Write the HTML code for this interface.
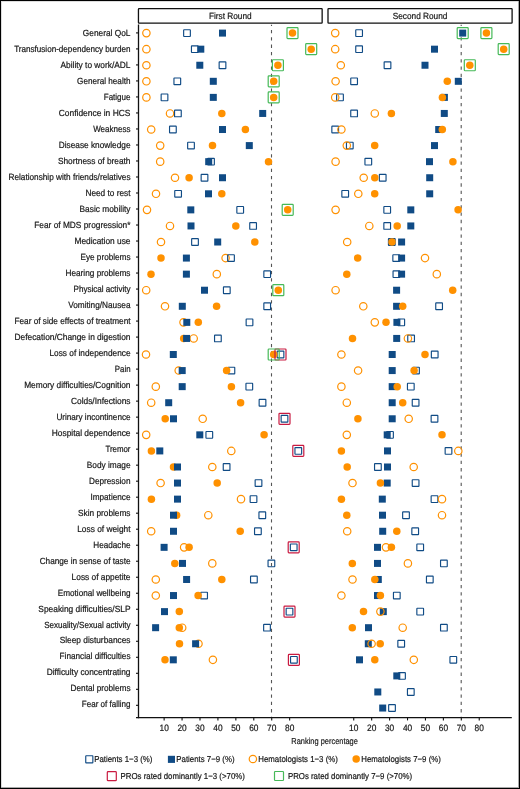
<!DOCTYPE html>
<html><head><meta charset="utf-8"><style>
html,body{margin:0;padding:0;background:#fff;}
body{width:520px;height:789px;overflow:hidden;position:relative;}
svg{position:absolute;left:0;top:0;}
text{font-family:"Liberation Sans",sans-serif;fill:#161616;stroke:#161616;stroke-width:0.18px;text-rendering:geometricPrecision;}
svg{will-change:transform;}
</style></head><body>
<svg width="520" height="789" viewBox="0 0 520 789">
<rect x="0" y="0" width="520" height="789" fill="#fff"/>
<rect x="138.45" y="8.6" width="183.70" height="14.45" rx="0.6" fill="#fff" stroke="#111" stroke-width="1.3"/>
<text transform="translate(230.30 18.50) scale(1.017 1.1)" font-size="8.15" text-anchor="middle">First Round</text>
<rect x="328.0" y="8.6" width="184.10" height="14.45" rx="0.6" fill="#fff" stroke="#111" stroke-width="1.3"/>
<text transform="translate(420.05 18.50) scale(1.017 1.1)" font-size="8.15" text-anchor="middle">Second Round</text>
<line x1="271.5" y1="24.7" x2="271.5" y2="716.8" stroke="#555" stroke-width="1.1" stroke-dasharray="3.3 4.002" stroke-dashoffset="2.002"/>
<line x1="461.2" y1="24.7" x2="461.2" y2="716.8" stroke="#555" stroke-width="1.1" stroke-dasharray="3.3 4.002" stroke-dashoffset="2.002"/>
<line x1="138.5" y1="24.6" x2="138.5" y2="718.3" stroke="#111" stroke-width="1.3"/>
<line x1="136.0" y1="717.7" x2="511.8" y2="717.7" stroke="#111" stroke-width="1.3"/>
<line x1="136.0" y1="32.90" x2="138.5" y2="32.90" stroke="#111" stroke-width="1.1"/>
<line x1="136.0" y1="48.91" x2="138.5" y2="48.91" stroke="#111" stroke-width="1.1"/>
<line x1="136.0" y1="64.92" x2="138.5" y2="64.92" stroke="#111" stroke-width="1.1"/>
<line x1="136.0" y1="80.93" x2="138.5" y2="80.93" stroke="#111" stroke-width="1.1"/>
<line x1="136.0" y1="96.94" x2="138.5" y2="96.94" stroke="#111" stroke-width="1.1"/>
<line x1="136.0" y1="112.95" x2="138.5" y2="112.95" stroke="#111" stroke-width="1.1"/>
<line x1="136.0" y1="128.96" x2="138.5" y2="128.96" stroke="#111" stroke-width="1.1"/>
<line x1="136.0" y1="144.97" x2="138.5" y2="144.97" stroke="#111" stroke-width="1.1"/>
<line x1="136.0" y1="160.98" x2="138.5" y2="160.98" stroke="#111" stroke-width="1.1"/>
<line x1="136.0" y1="176.99" x2="138.5" y2="176.99" stroke="#111" stroke-width="1.1"/>
<line x1="136.0" y1="193.00" x2="138.5" y2="193.00" stroke="#111" stroke-width="1.1"/>
<line x1="136.0" y1="209.01" x2="138.5" y2="209.01" stroke="#111" stroke-width="1.1"/>
<line x1="136.0" y1="225.02" x2="138.5" y2="225.02" stroke="#111" stroke-width="1.1"/>
<line x1="136.0" y1="241.03" x2="138.5" y2="241.03" stroke="#111" stroke-width="1.1"/>
<line x1="136.0" y1="257.04" x2="138.5" y2="257.04" stroke="#111" stroke-width="1.1"/>
<line x1="136.0" y1="273.05" x2="138.5" y2="273.05" stroke="#111" stroke-width="1.1"/>
<line x1="136.0" y1="289.06" x2="138.5" y2="289.06" stroke="#111" stroke-width="1.1"/>
<line x1="136.0" y1="305.07" x2="138.5" y2="305.07" stroke="#111" stroke-width="1.1"/>
<line x1="136.0" y1="321.08" x2="138.5" y2="321.08" stroke="#111" stroke-width="1.1"/>
<line x1="136.0" y1="337.09" x2="138.5" y2="337.09" stroke="#111" stroke-width="1.1"/>
<line x1="136.0" y1="353.10" x2="138.5" y2="353.10" stroke="#111" stroke-width="1.1"/>
<line x1="136.0" y1="369.11" x2="138.5" y2="369.11" stroke="#111" stroke-width="1.1"/>
<line x1="136.0" y1="385.12" x2="138.5" y2="385.12" stroke="#111" stroke-width="1.1"/>
<line x1="136.0" y1="401.13" x2="138.5" y2="401.13" stroke="#111" stroke-width="1.1"/>
<line x1="136.0" y1="417.14" x2="138.5" y2="417.14" stroke="#111" stroke-width="1.1"/>
<line x1="136.0" y1="433.15" x2="138.5" y2="433.15" stroke="#111" stroke-width="1.1"/>
<line x1="136.0" y1="449.16" x2="138.5" y2="449.16" stroke="#111" stroke-width="1.1"/>
<line x1="136.0" y1="465.17" x2="138.5" y2="465.17" stroke="#111" stroke-width="1.1"/>
<line x1="136.0" y1="481.18" x2="138.5" y2="481.18" stroke="#111" stroke-width="1.1"/>
<line x1="136.0" y1="497.19" x2="138.5" y2="497.19" stroke="#111" stroke-width="1.1"/>
<line x1="136.0" y1="513.20" x2="138.5" y2="513.20" stroke="#111" stroke-width="1.1"/>
<line x1="136.0" y1="529.21" x2="138.5" y2="529.21" stroke="#111" stroke-width="1.1"/>
<line x1="136.0" y1="545.22" x2="138.5" y2="545.22" stroke="#111" stroke-width="1.1"/>
<line x1="136.0" y1="561.23" x2="138.5" y2="561.23" stroke="#111" stroke-width="1.1"/>
<line x1="136.0" y1="577.24" x2="138.5" y2="577.24" stroke="#111" stroke-width="1.1"/>
<line x1="136.0" y1="593.25" x2="138.5" y2="593.25" stroke="#111" stroke-width="1.1"/>
<line x1="136.0" y1="609.26" x2="138.5" y2="609.26" stroke="#111" stroke-width="1.1"/>
<line x1="136.0" y1="625.27" x2="138.5" y2="625.27" stroke="#111" stroke-width="1.1"/>
<line x1="136.0" y1="641.28" x2="138.5" y2="641.28" stroke="#111" stroke-width="1.1"/>
<line x1="136.0" y1="657.29" x2="138.5" y2="657.29" stroke="#111" stroke-width="1.1"/>
<line x1="136.0" y1="673.30" x2="138.5" y2="673.30" stroke="#111" stroke-width="1.1"/>
<line x1="136.0" y1="689.31" x2="138.5" y2="689.31" stroke="#111" stroke-width="1.1"/>
<line x1="136.0" y1="705.32" x2="138.5" y2="705.32" stroke="#111" stroke-width="1.1"/>
<line x1="164.13" y1="717.7" x2="164.13" y2="720.4" stroke="#111" stroke-width="1.1"/>
<text transform="translate(164.13 731.00) scale(1 1.1)" font-size="8.35" text-anchor="middle">10</text>
<line x1="182.06" y1="717.7" x2="182.06" y2="720.4" stroke="#111" stroke-width="1.1"/>
<text transform="translate(182.06 731.00) scale(1 1.1)" font-size="8.35" text-anchor="middle">20</text>
<line x1="199.99" y1="717.7" x2="199.99" y2="720.4" stroke="#111" stroke-width="1.1"/>
<text transform="translate(199.99 731.00) scale(1 1.1)" font-size="8.35" text-anchor="middle">30</text>
<line x1="217.92" y1="717.7" x2="217.92" y2="720.4" stroke="#111" stroke-width="1.1"/>
<text transform="translate(217.92 731.00) scale(1 1.1)" font-size="8.35" text-anchor="middle">40</text>
<line x1="235.85" y1="717.7" x2="235.85" y2="720.4" stroke="#111" stroke-width="1.1"/>
<text transform="translate(235.85 731.00) scale(1 1.1)" font-size="8.35" text-anchor="middle">50</text>
<line x1="253.78" y1="717.7" x2="253.78" y2="720.4" stroke="#111" stroke-width="1.1"/>
<text transform="translate(253.78 731.00) scale(1 1.1)" font-size="8.35" text-anchor="middle">60</text>
<line x1="271.71" y1="717.7" x2="271.71" y2="720.4" stroke="#111" stroke-width="1.1"/>
<text transform="translate(271.71 731.00) scale(1 1.1)" font-size="8.35" text-anchor="middle">70</text>
<line x1="289.64" y1="717.7" x2="289.64" y2="720.4" stroke="#111" stroke-width="1.1"/>
<text transform="translate(289.64 731.00) scale(1 1.1)" font-size="8.35" text-anchor="middle">80</text>
<line x1="353.73" y1="717.7" x2="353.73" y2="720.4" stroke="#111" stroke-width="1.1"/>
<text transform="translate(353.73 731.00) scale(1 1.1)" font-size="8.35" text-anchor="middle">10</text>
<line x1="371.66" y1="717.7" x2="371.66" y2="720.4" stroke="#111" stroke-width="1.1"/>
<text transform="translate(371.66 731.00) scale(1 1.1)" font-size="8.35" text-anchor="middle">20</text>
<line x1="389.59" y1="717.7" x2="389.59" y2="720.4" stroke="#111" stroke-width="1.1"/>
<text transform="translate(389.59 731.00) scale(1 1.1)" font-size="8.35" text-anchor="middle">30</text>
<line x1="407.52" y1="717.7" x2="407.52" y2="720.4" stroke="#111" stroke-width="1.1"/>
<text transform="translate(407.52 731.00) scale(1 1.1)" font-size="8.35" text-anchor="middle">40</text>
<line x1="425.45" y1="717.7" x2="425.45" y2="720.4" stroke="#111" stroke-width="1.1"/>
<text transform="translate(425.45 731.00) scale(1 1.1)" font-size="8.35" text-anchor="middle">50</text>
<line x1="443.38" y1="717.7" x2="443.38" y2="720.4" stroke="#111" stroke-width="1.1"/>
<text transform="translate(443.38 731.00) scale(1 1.1)" font-size="8.35" text-anchor="middle">60</text>
<line x1="461.31" y1="717.7" x2="461.31" y2="720.4" stroke="#111" stroke-width="1.1"/>
<text transform="translate(461.31 731.00) scale(1 1.1)" font-size="8.35" text-anchor="middle">70</text>
<line x1="479.24" y1="717.7" x2="479.24" y2="720.4" stroke="#111" stroke-width="1.1"/>
<text transform="translate(479.24 731.00) scale(1 1.1)" font-size="8.35" text-anchor="middle">80</text>
<text transform="translate(130.5 36.40) scale(1.0237 1.1)" font-size="8.15" text-anchor="end">General QoL</text>
<text transform="translate(130.5 52.38) scale(0.9973 1.1)" font-size="8.15" text-anchor="end">Transfusion-dependency burden</text>
<text transform="translate(130.5 68.35) scale(1.0264 1.1)" font-size="8.15" text-anchor="end">Ability to work/ADL</text>
<text transform="translate(130.5 84.33) scale(1.0021 1.1)" font-size="8.15" text-anchor="end">General health</text>
<text transform="translate(130.5 100.30) scale(0.9863 1.1)" font-size="8.15" text-anchor="end">Fatigue</text>
<text transform="translate(130.5 116.28) scale(1.0394 1.1)" font-size="8.15" text-anchor="end">Confidence in HCS</text>
<text transform="translate(130.5 132.26) scale(0.9874 1.1)" font-size="8.15" text-anchor="end">Weakness</text>
<text transform="translate(130.5 148.23) scale(1.0173 1.1)" font-size="8.15" text-anchor="end">Disease knowledge</text>
<text transform="translate(130.5 164.21) scale(1.0231 1.1)" font-size="8.15" text-anchor="end">Shortness of breath</text>
<text transform="translate(130.5 180.18) scale(1.0116 1.1)" font-size="8.15" text-anchor="end">Relationship with friends/relatives</text>
<text transform="translate(130.5 196.16) scale(1.0181 1.1)" font-size="8.15" text-anchor="end">Need to rest</text>
<text transform="translate(130.5 212.14) scale(1.0262 1.1)" font-size="8.15" text-anchor="end">Basic mobility</text>
<text transform="translate(130.5 228.11) scale(1.0249 1.1)" font-size="8.15" text-anchor="end">Fear of MDS progression*</text>
<text transform="translate(130.5 244.09) scale(1.0255 1.1)" font-size="8.15" text-anchor="end">Medication use</text>
<text transform="translate(130.5 260.06) scale(1.0059 1.1)" font-size="8.15" text-anchor="end">Eye problems</text>
<text transform="translate(130.5 276.04) scale(1.013 1.1)" font-size="8.15" text-anchor="end">Hearing problems</text>
<text transform="translate(130.5 292.02) scale(0.9932 1.1)" font-size="8.15" text-anchor="end">Physical activity</text>
<text transform="translate(130.5 307.99) scale(1.015 1.1)" font-size="8.15" text-anchor="end">Vomiting/Nausea</text>
<text transform="translate(130.5 323.97) scale(1.013 1.1)" font-size="8.15" text-anchor="end">Fear of side effects of treatment</text>
<text transform="translate(130.5 339.94) scale(1.0269 1.1)" font-size="8.15" text-anchor="end">Defecation/Change in digestion</text>
<text transform="translate(130.5 355.92) scale(1.0188 1.1)" font-size="8.15" text-anchor="end">Loss of independence</text>
<text transform="translate(130.5 371.90) scale(0.9633 1.1)" font-size="8.15" text-anchor="end">Pain</text>
<text transform="translate(130.5 387.87) scale(1.0254 1.1)" font-size="8.15" text-anchor="end">Memory difficulties/Cognition</text>
<text transform="translate(130.5 403.85) scale(1.0302 1.1)" font-size="8.15" text-anchor="end">Colds/Infections</text>
<text transform="translate(130.5 419.82) scale(1.0 1.1)" font-size="8.15" text-anchor="end">Urinary incontinence</text>
<text transform="translate(130.5 435.80) scale(1.0318 1.1)" font-size="8.15" text-anchor="end">Hospital dependence</text>
<text transform="translate(130.5 451.78) scale(0.9696 1.1)" font-size="8.15" text-anchor="end">Tremor</text>
<text transform="translate(130.5 467.75) scale(1.0195 1.1)" font-size="8.15" text-anchor="end">Body image</text>
<text transform="translate(130.5 483.73) scale(1.0105 1.1)" font-size="8.15" text-anchor="end">Depression</text>
<text transform="translate(130.5 499.70) scale(1.0091 1.1)" font-size="8.15" text-anchor="end">Impatience</text>
<text transform="translate(130.5 515.68) scale(1.0198 1.1)" font-size="8.15" text-anchor="end">Skin problems</text>
<text transform="translate(130.5 531.66) scale(1.0257 1.1)" font-size="8.15" text-anchor="end">Loss of weight</text>
<text transform="translate(130.5 547.63) scale(1.0035 1.1)" font-size="8.15" text-anchor="end">Headache</text>
<text transform="translate(130.5 563.61) scale(1.0106 1.1)" font-size="8.15" text-anchor="end">Change in sense of taste</text>
<text transform="translate(130.5 579.58) scale(1.0264 1.1)" font-size="8.15" text-anchor="end">Loss of appetite</text>
<text transform="translate(130.5 595.56) scale(1.0071 1.1)" font-size="8.15" text-anchor="end">Emotional wellbeing</text>
<text transform="translate(130.5 611.54) scale(1.0327 1.1)" font-size="8.15" text-anchor="end">Speaking difficulties/SLP</text>
<text transform="translate(130.5 627.51) scale(0.99 1.1)" font-size="8.15" text-anchor="end">Sexuality/Sexual activity</text>
<text transform="translate(130.5 643.49) scale(1.0251 1.1)" font-size="8.15" text-anchor="end">Sleep disturbances</text>
<text transform="translate(130.5 659.46) scale(1.0087 1.1)" font-size="8.15" text-anchor="end">Financial difficulties</text>
<text transform="translate(130.5 675.44) scale(1.027 1.1)" font-size="8.15" text-anchor="end">Difficulty concentrating</text>
<text transform="translate(130.5 691.42) scale(1.0124 1.1)" font-size="8.15" text-anchor="end">Dental problems</text>
<text transform="translate(130.5 707.39) scale(0.9884 1.1)" font-size="8.15" text-anchor="end">Fear of falling</text>
<circle cx="146.40" cy="33.10" r="3.7" fill="none" stroke="#ff9100" stroke-width="1.2"/>
<rect x="183.65" y="29.75" width="6.7" height="6.7" fill="none" stroke="#104b85" stroke-width="1.15" rx="0.4"/>
<circle cx="292.50" cy="33.10" r="3.75" fill="#ff9100"/>
<rect x="219.00" y="29.60" width="7.0" height="7.0" fill="#104b85"/>
<circle cx="146.40" cy="49.17" r="3.7" fill="none" stroke="#ff9100" stroke-width="1.2"/>
<rect x="191.45" y="45.82" width="6.7" height="6.7" fill="none" stroke="#104b85" stroke-width="1.15" rx="0.4"/>
<circle cx="311.20" cy="49.17" r="3.75" fill="#ff9100"/>
<rect x="197.30" y="45.67" width="7.0" height="7.0" fill="#104b85"/>
<circle cx="146.40" cy="65.24" r="3.7" fill="none" stroke="#ff9100" stroke-width="1.2"/>
<rect x="219.15" y="61.89" width="6.7" height="6.7" fill="none" stroke="#104b85" stroke-width="1.15" rx="0.4"/>
<circle cx="277.90" cy="65.24" r="3.75" fill="#ff9100"/>
<rect x="196.30" y="61.74" width="7.0" height="7.0" fill="#104b85"/>
<circle cx="146.40" cy="81.31" r="3.7" fill="none" stroke="#ff9100" stroke-width="1.2"/>
<rect x="173.95" y="77.96" width="6.7" height="6.7" fill="none" stroke="#104b85" stroke-width="1.15" rx="0.4"/>
<circle cx="273.70" cy="81.31" r="3.75" fill="#ff9100"/>
<rect x="209.80" y="77.81" width="7.0" height="7.0" fill="#104b85"/>
<circle cx="146.40" cy="97.38" r="3.7" fill="none" stroke="#ff9100" stroke-width="1.2"/>
<rect x="161.15" y="94.03" width="6.7" height="6.7" fill="none" stroke="#104b85" stroke-width="1.15" rx="0.4"/>
<circle cx="273.70" cy="97.38" r="3.75" fill="#ff9100"/>
<rect x="209.80" y="93.88" width="7.0" height="7.0" fill="#104b85"/>
<circle cx="170.00" cy="113.45" r="3.7" fill="none" stroke="#ff9100" stroke-width="1.2"/>
<rect x="174.55" y="110.10" width="6.7" height="6.7" fill="none" stroke="#104b85" stroke-width="1.15" rx="0.4"/>
<circle cx="221.80" cy="113.45" r="3.75" fill="#ff9100"/>
<rect x="259.20" y="109.95" width="7.0" height="7.0" fill="#104b85"/>
<circle cx="151.20" cy="129.52" r="3.7" fill="none" stroke="#ff9100" stroke-width="1.2"/>
<rect x="169.55" y="126.17" width="6.7" height="6.7" fill="none" stroke="#104b85" stroke-width="1.15" rx="0.4"/>
<circle cx="245.40" cy="129.52" r="3.75" fill="#ff9100"/>
<rect x="219.00" y="126.02" width="7.0" height="7.0" fill="#104b85"/>
<circle cx="160.20" cy="145.59" r="3.7" fill="none" stroke="#ff9100" stroke-width="1.2"/>
<rect x="187.65" y="142.24" width="6.7" height="6.7" fill="none" stroke="#104b85" stroke-width="1.15" rx="0.4"/>
<circle cx="212.50" cy="145.59" r="3.75" fill="#ff9100"/>
<rect x="245.80" y="142.09" width="7.0" height="7.0" fill="#104b85"/>
<circle cx="160.20" cy="161.66" r="3.7" fill="none" stroke="#ff9100" stroke-width="1.2"/>
<rect x="207.65" y="158.31" width="6.7" height="6.7" fill="none" stroke="#104b85" stroke-width="1.15" rx="0.4"/>
<circle cx="268.50" cy="161.66" r="3.75" fill="#ff9100"/>
<rect x="205.20" y="158.16" width="7.0" height="7.0" fill="#104b85"/>
<circle cx="175.00" cy="177.73" r="3.7" fill="none" stroke="#ff9100" stroke-width="1.2"/>
<rect x="201.15" y="174.38" width="6.7" height="6.7" fill="none" stroke="#104b85" stroke-width="1.15" rx="0.4"/>
<circle cx="189.10" cy="177.73" r="3.75" fill="#ff9100"/>
<rect x="219.00" y="174.23" width="7.0" height="7.0" fill="#104b85"/>
<circle cx="156.00" cy="193.80" r="3.7" fill="none" stroke="#ff9100" stroke-width="1.2"/>
<rect x="174.75" y="190.45" width="6.7" height="6.7" fill="none" stroke="#104b85" stroke-width="1.15" rx="0.4"/>
<circle cx="221.80" cy="193.80" r="3.75" fill="#ff9100"/>
<rect x="205.00" y="190.30" width="7.0" height="7.0" fill="#104b85"/>
<circle cx="147.00" cy="209.87" r="3.7" fill="none" stroke="#ff9100" stroke-width="1.2"/>
<rect x="236.85" y="206.52" width="6.7" height="6.7" fill="none" stroke="#104b85" stroke-width="1.15" rx="0.4"/>
<circle cx="287.70" cy="209.87" r="3.75" fill="#ff9100"/>
<rect x="187.30" y="206.37" width="7.0" height="7.0" fill="#104b85"/>
<circle cx="170.00" cy="225.94" r="3.7" fill="none" stroke="#ff9100" stroke-width="1.2"/>
<rect x="249.75" y="222.59" width="6.7" height="6.7" fill="none" stroke="#104b85" stroke-width="1.15" rx="0.4"/>
<circle cx="235.80" cy="225.94" r="3.75" fill="#ff9100"/>
<rect x="187.50" y="222.44" width="7.0" height="7.0" fill="#104b85"/>
<circle cx="161.00" cy="242.01" r="3.7" fill="none" stroke="#ff9100" stroke-width="1.2"/>
<rect x="191.65" y="238.66" width="6.7" height="6.7" fill="none" stroke="#104b85" stroke-width="1.15" rx="0.4"/>
<circle cx="254.80" cy="242.01" r="3.75" fill="#ff9100"/>
<rect x="214.20" y="238.51" width="7.0" height="7.0" fill="#104b85"/>
<circle cx="225.60" cy="258.08" r="3.7" fill="none" stroke="#ff9100" stroke-width="1.2"/>
<rect x="227.65" y="254.73" width="6.7" height="6.7" fill="none" stroke="#104b85" stroke-width="1.15" rx="0.4"/>
<circle cx="161.00" cy="258.08" r="3.75" fill="#ff9100"/>
<rect x="182.90" y="254.58" width="7.0" height="7.0" fill="#104b85"/>
<circle cx="216.80" cy="274.15" r="3.7" fill="none" stroke="#ff9100" stroke-width="1.2"/>
<rect x="263.85" y="270.80" width="6.7" height="6.7" fill="none" stroke="#104b85" stroke-width="1.15" rx="0.4"/>
<circle cx="151.00" cy="274.15" r="3.75" fill="#ff9100"/>
<rect x="182.90" y="270.65" width="7.0" height="7.0" fill="#104b85"/>
<circle cx="146.20" cy="290.22" r="3.7" fill="none" stroke="#ff9100" stroke-width="1.2"/>
<rect x="223.45" y="286.87" width="6.7" height="6.7" fill="none" stroke="#104b85" stroke-width="1.15" rx="0.4"/>
<circle cx="278.30" cy="290.22" r="3.75" fill="#ff9100"/>
<rect x="201.00" y="286.72" width="7.0" height="7.0" fill="#104b85"/>
<circle cx="165.00" cy="306.29" r="3.7" fill="none" stroke="#ff9100" stroke-width="1.2"/>
<rect x="263.85" y="302.94" width="6.7" height="6.7" fill="none" stroke="#104b85" stroke-width="1.15" rx="0.4"/>
<circle cx="216.60" cy="306.29" r="3.75" fill="#ff9100"/>
<rect x="178.80" y="302.79" width="7.0" height="7.0" fill="#104b85"/>
<circle cx="183.50" cy="322.36" r="3.7" fill="none" stroke="#ff9100" stroke-width="1.2"/>
<rect x="246.15" y="319.01" width="6.7" height="6.7" fill="none" stroke="#104b85" stroke-width="1.15" rx="0.4"/>
<circle cx="198.30" cy="322.36" r="3.75" fill="#ff9100"/>
<rect x="183.30" y="318.86" width="7.0" height="7.0" fill="#104b85"/>
<circle cx="193.70" cy="338.43" r="3.7" fill="none" stroke="#ff9100" stroke-width="1.2"/>
<rect x="214.55" y="335.08" width="6.7" height="6.7" fill="none" stroke="#104b85" stroke-width="1.15" rx="0.4"/>
<circle cx="183.70" cy="338.43" r="3.75" fill="#ff9100"/>
<rect x="183.10" y="334.93" width="7.0" height="7.0" fill="#104b85"/>
<circle cx="146.00" cy="354.50" r="3.7" fill="none" stroke="#ff9100" stroke-width="1.2"/>
<rect x="277.15" y="351.15" width="6.7" height="6.7" fill="none" stroke="#104b85" stroke-width="1.15" rx="0.4"/>
<circle cx="273.70" cy="354.50" r="3.75" fill="#ff9100"/>
<rect x="169.80" y="351.00" width="7.0" height="7.0" fill="#104b85"/>
<circle cx="178.70" cy="370.57" r="3.7" fill="none" stroke="#ff9100" stroke-width="1.2"/>
<rect x="228.05" y="367.22" width="6.7" height="6.7" fill="none" stroke="#104b85" stroke-width="1.15" rx="0.4"/>
<circle cx="226.60" cy="370.57" r="3.75" fill="#ff9100"/>
<rect x="178.70" y="367.07" width="7.0" height="7.0" fill="#104b85"/>
<circle cx="155.80" cy="386.64" r="3.7" fill="none" stroke="#ff9100" stroke-width="1.2"/>
<rect x="245.95" y="383.29" width="6.7" height="6.7" fill="none" stroke="#104b85" stroke-width="1.15" rx="0.4"/>
<circle cx="231.40" cy="386.64" r="3.75" fill="#ff9100"/>
<rect x="178.70" y="383.14" width="7.0" height="7.0" fill="#104b85"/>
<circle cx="151.20" cy="402.71" r="3.7" fill="none" stroke="#ff9100" stroke-width="1.2"/>
<rect x="259.15" y="399.36" width="6.7" height="6.7" fill="none" stroke="#104b85" stroke-width="1.15" rx="0.4"/>
<circle cx="240.60" cy="402.71" r="3.75" fill="#ff9100"/>
<rect x="165.20" y="399.21" width="7.0" height="7.0" fill="#104b85"/>
<circle cx="202.70" cy="418.78" r="3.7" fill="none" stroke="#ff9100" stroke-width="1.2"/>
<rect x="281.15" y="415.43" width="6.7" height="6.7" fill="none" stroke="#104b85" stroke-width="1.15" rx="0.4"/>
<circle cx="165.20" cy="418.78" r="3.75" fill="#ff9100"/>
<rect x="170.00" y="415.28" width="7.0" height="7.0" fill="#104b85"/>
<circle cx="146.20" cy="434.85" r="3.7" fill="none" stroke="#ff9100" stroke-width="1.2"/>
<rect x="205.95" y="431.50" width="6.7" height="6.7" fill="none" stroke="#104b85" stroke-width="1.15" rx="0.4"/>
<circle cx="264.10" cy="434.85" r="3.75" fill="#ff9100"/>
<rect x="196.30" y="431.35" width="7.0" height="7.0" fill="#104b85"/>
<circle cx="231.30" cy="450.92" r="3.7" fill="none" stroke="#ff9100" stroke-width="1.2"/>
<rect x="294.95" y="447.57" width="6.7" height="6.7" fill="none" stroke="#104b85" stroke-width="1.15" rx="0.4"/>
<circle cx="151.40" cy="450.92" r="3.75" fill="#ff9100"/>
<rect x="156.30" y="447.42" width="7.0" height="7.0" fill="#104b85"/>
<circle cx="212.30" cy="466.99" r="3.7" fill="none" stroke="#ff9100" stroke-width="1.2"/>
<rect x="223.25" y="463.64" width="6.7" height="6.7" fill="none" stroke="#104b85" stroke-width="1.15" rx="0.4"/>
<circle cx="173.50" cy="466.99" r="3.75" fill="#ff9100"/>
<rect x="174.00" y="463.49" width="7.0" height="7.0" fill="#104b85"/>
<circle cx="160.60" cy="483.06" r="3.7" fill="none" stroke="#ff9100" stroke-width="1.2"/>
<rect x="255.15" y="479.71" width="6.7" height="6.7" fill="none" stroke="#104b85" stroke-width="1.15" rx="0.4"/>
<circle cx="217.20" cy="483.06" r="3.75" fill="#ff9100"/>
<rect x="174.00" y="479.56" width="7.0" height="7.0" fill="#104b85"/>
<circle cx="241.00" cy="499.13" r="3.7" fill="none" stroke="#ff9100" stroke-width="1.2"/>
<rect x="250.15" y="495.78" width="6.7" height="6.7" fill="none" stroke="#104b85" stroke-width="1.15" rx="0.4"/>
<circle cx="151.40" cy="499.13" r="3.75" fill="#ff9100"/>
<rect x="174.00" y="495.63" width="7.0" height="7.0" fill="#104b85"/>
<circle cx="208.30" cy="515.20" r="3.7" fill="none" stroke="#ff9100" stroke-width="1.2"/>
<rect x="258.95" y="511.85" width="6.7" height="6.7" fill="none" stroke="#104b85" stroke-width="1.15" rx="0.4"/>
<circle cx="176.60" cy="515.20" r="3.75" fill="#ff9100"/>
<rect x="170.00" y="511.70" width="7.0" height="7.0" fill="#104b85"/>
<circle cx="151.20" cy="531.27" r="3.7" fill="none" stroke="#ff9100" stroke-width="1.2"/>
<rect x="254.55" y="527.92" width="6.7" height="6.7" fill="none" stroke="#104b85" stroke-width="1.15" rx="0.4"/>
<circle cx="240.20" cy="531.27" r="3.75" fill="#ff9100"/>
<rect x="170.00" y="527.77" width="7.0" height="7.0" fill="#104b85"/>
<circle cx="184.10" cy="547.34" r="3.7" fill="none" stroke="#ff9100" stroke-width="1.2"/>
<rect x="290.35" y="543.99" width="6.7" height="6.7" fill="none" stroke="#104b85" stroke-width="1.15" rx="0.4"/>
<circle cx="189.10" cy="547.34" r="3.75" fill="#ff9100"/>
<rect x="160.60" y="543.84" width="7.0" height="7.0" fill="#104b85"/>
<circle cx="212.30" cy="563.41" r="3.7" fill="none" stroke="#ff9100" stroke-width="1.2"/>
<rect x="268.05" y="560.06" width="6.7" height="6.7" fill="none" stroke="#104b85" stroke-width="1.15" rx="0.4"/>
<circle cx="174.80" cy="563.41" r="3.75" fill="#ff9100"/>
<rect x="179.00" y="559.91" width="7.0" height="7.0" fill="#104b85"/>
<circle cx="155.80" cy="579.48" r="3.7" fill="none" stroke="#ff9100" stroke-width="1.2"/>
<rect x="250.55" y="576.13" width="6.7" height="6.7" fill="none" stroke="#104b85" stroke-width="1.15" rx="0.4"/>
<circle cx="221.80" cy="579.48" r="3.75" fill="#ff9100"/>
<rect x="183.10" y="575.98" width="7.0" height="7.0" fill="#104b85"/>
<circle cx="155.80" cy="595.55" r="3.7" fill="none" stroke="#ff9100" stroke-width="1.2"/>
<rect x="200.75" y="592.20" width="6.7" height="6.7" fill="none" stroke="#104b85" stroke-width="1.15" rx="0.4"/>
<circle cx="198.10" cy="595.55" r="3.75" fill="#ff9100"/>
<rect x="170.00" y="592.05" width="7.0" height="7.0" fill="#104b85"/>
<rect x="286.15" y="608.27" width="6.7" height="6.7" fill="none" stroke="#104b85" stroke-width="1.15" rx="0.4"/>
<circle cx="179.30" cy="611.62" r="3.75" fill="#ff9100"/>
<rect x="161.00" y="608.12" width="7.0" height="7.0" fill="#104b85"/>
<circle cx="182.20" cy="627.69" r="3.7" fill="none" stroke="#ff9100" stroke-width="1.2"/>
<rect x="263.65" y="624.34" width="6.7" height="6.7" fill="none" stroke="#104b85" stroke-width="1.15" rx="0.4"/>
<circle cx="179.30" cy="627.69" r="3.75" fill="#ff9100"/>
<rect x="152.10" y="624.19" width="7.0" height="7.0" fill="#104b85"/>
<circle cx="198.50" cy="643.76" r="3.7" fill="none" stroke="#ff9100" stroke-width="1.2"/>
<circle cx="179.50" cy="643.76" r="3.75" fill="#ff9100"/>
<rect x="192.10" y="640.26" width="7.0" height="7.0" fill="#104b85"/>
<circle cx="212.90" cy="659.83" r="3.7" fill="none" stroke="#ff9100" stroke-width="1.2"/>
<rect x="290.55" y="656.48" width="6.7" height="6.7" fill="none" stroke="#104b85" stroke-width="1.15" rx="0.4"/>
<circle cx="165.00" cy="659.83" r="3.75" fill="#ff9100"/>
<rect x="169.80" y="656.33" width="7.0" height="7.0" fill="#104b85"/>
<rect x="275.00" y="349.00" width="11.0" height="11.0" fill="none" stroke="#c91a40" stroke-width="1.2" rx="0.8"/>
<rect x="279.00" y="413.28" width="11.0" height="11.0" fill="none" stroke="#c91a40" stroke-width="1.2" rx="0.8"/>
<rect x="292.80" y="445.42" width="11.0" height="11.0" fill="none" stroke="#c91a40" stroke-width="1.2" rx="0.8"/>
<rect x="288.20" y="541.84" width="11.0" height="11.0" fill="none" stroke="#c91a40" stroke-width="1.2" rx="0.8"/>
<rect x="284.00" y="606.12" width="11.0" height="11.0" fill="none" stroke="#c91a40" stroke-width="1.2" rx="0.8"/>
<rect x="288.40" y="654.33" width="11.0" height="11.0" fill="none" stroke="#c91a40" stroke-width="1.2" rx="0.8"/>
<rect x="287.00" y="27.60" width="11.0" height="11.0" fill="none" stroke="#46b958" stroke-width="1.2" rx="0.8"/>
<rect x="305.70" y="43.67" width="11.0" height="11.0" fill="none" stroke="#46b958" stroke-width="1.2" rx="0.8"/>
<rect x="272.40" y="59.74" width="11.0" height="11.0" fill="none" stroke="#46b958" stroke-width="1.2" rx="0.8"/>
<rect x="268.20" y="75.81" width="11.0" height="11.0" fill="none" stroke="#46b958" stroke-width="1.2" rx="0.8"/>
<rect x="268.20" y="91.88" width="11.0" height="11.0" fill="none" stroke="#46b958" stroke-width="1.2" rx="0.8"/>
<rect x="282.20" y="204.37" width="11.0" height="11.0" fill="none" stroke="#46b958" stroke-width="1.2" rx="0.8"/>
<rect x="272.80" y="284.72" width="11.0" height="11.0" fill="none" stroke="#46b958" stroke-width="1.2" rx="0.8"/>
<rect x="268.20" y="349.00" width="11.0" height="11.0" fill="none" stroke="#46b958" stroke-width="1.2" rx="0.8"/>
<rect x="355.75" y="29.75" width="6.7" height="6.7" fill="none" stroke="#104b85" stroke-width="1.15" rx="0.4"/>
<rect x="459.20" y="29.60" width="7.0" height="7.0" fill="#104b85"/>
<circle cx="335.20" cy="33.10" r="3.7" fill="none" stroke="#ff9100" stroke-width="1.2"/>
<circle cx="486.40" cy="33.10" r="3.75" fill="#ff9100"/>
<rect x="355.75" y="45.82" width="6.7" height="6.7" fill="none" stroke="#104b85" stroke-width="1.15" rx="0.4"/>
<rect x="431.00" y="45.67" width="7.0" height="7.0" fill="#104b85"/>
<circle cx="335.20" cy="49.17" r="3.7" fill="none" stroke="#ff9100" stroke-width="1.2"/>
<circle cx="503.70" cy="49.17" r="3.75" fill="#ff9100"/>
<rect x="384.15" y="61.89" width="6.7" height="6.7" fill="none" stroke="#104b85" stroke-width="1.15" rx="0.4"/>
<rect x="421.50" y="61.74" width="7.0" height="7.0" fill="#104b85"/>
<circle cx="340.80" cy="65.24" r="3.7" fill="none" stroke="#ff9100" stroke-width="1.2"/>
<circle cx="469.80" cy="65.24" r="3.75" fill="#ff9100"/>
<rect x="350.75" y="77.96" width="6.7" height="6.7" fill="none" stroke="#104b85" stroke-width="1.15" rx="0.4"/>
<rect x="454.80" y="77.81" width="7.0" height="7.0" fill="#104b85"/>
<circle cx="335.60" cy="81.31" r="3.7" fill="none" stroke="#ff9100" stroke-width="1.2"/>
<circle cx="447.30" cy="81.31" r="3.75" fill="#ff9100"/>
<rect x="336.65" y="94.03" width="6.7" height="6.7" fill="none" stroke="#104b85" stroke-width="1.15" rx="0.4"/>
<rect x="440.90" y="93.88" width="7.0" height="7.0" fill="#104b85"/>
<circle cx="335.20" cy="97.38" r="3.7" fill="none" stroke="#ff9100" stroke-width="1.2"/>
<circle cx="442.40" cy="97.38" r="3.75" fill="#ff9100"/>
<rect x="350.75" y="110.10" width="6.7" height="6.7" fill="none" stroke="#104b85" stroke-width="1.15" rx="0.4"/>
<rect x="440.80" y="109.95" width="7.0" height="7.0" fill="#104b85"/>
<circle cx="374.80" cy="113.45" r="3.7" fill="none" stroke="#ff9100" stroke-width="1.2"/>
<circle cx="391.40" cy="113.45" r="3.75" fill="#ff9100"/>
<rect x="331.85" y="126.17" width="6.7" height="6.7" fill="none" stroke="#104b85" stroke-width="1.15" rx="0.4"/>
<rect x="435.20" y="126.02" width="7.0" height="7.0" fill="#104b85"/>
<circle cx="341.40" cy="129.52" r="3.7" fill="none" stroke="#ff9100" stroke-width="1.2"/>
<circle cx="442.30" cy="129.52" r="3.75" fill="#ff9100"/>
<rect x="346.45" y="142.24" width="6.7" height="6.7" fill="none" stroke="#104b85" stroke-width="1.15" rx="0.4"/>
<rect x="431.00" y="142.09" width="7.0" height="7.0" fill="#104b85"/>
<circle cx="346.80" cy="145.59" r="3.7" fill="none" stroke="#ff9100" stroke-width="1.2"/>
<circle cx="374.70" cy="145.59" r="3.75" fill="#ff9100"/>
<rect x="364.95" y="158.31" width="6.7" height="6.7" fill="none" stroke="#104b85" stroke-width="1.15" rx="0.4"/>
<rect x="426.00" y="158.16" width="7.0" height="7.0" fill="#104b85"/>
<circle cx="335.60" cy="161.66" r="3.7" fill="none" stroke="#ff9100" stroke-width="1.2"/>
<circle cx="452.90" cy="161.66" r="3.75" fill="#ff9100"/>
<rect x="379.35" y="174.38" width="6.7" height="6.7" fill="none" stroke="#104b85" stroke-width="1.15" rx="0.4"/>
<rect x="426.20" y="174.23" width="7.0" height="7.0" fill="#104b85"/>
<circle cx="363.70" cy="177.73" r="3.7" fill="none" stroke="#ff9100" stroke-width="1.2"/>
<circle cx="374.80" cy="177.73" r="3.75" fill="#ff9100"/>
<rect x="341.85" y="190.45" width="6.7" height="6.7" fill="none" stroke="#104b85" stroke-width="1.15" rx="0.4"/>
<rect x="426.20" y="190.30" width="7.0" height="7.0" fill="#104b85"/>
<circle cx="358.30" cy="193.80" r="3.7" fill="none" stroke="#ff9100" stroke-width="1.2"/>
<circle cx="374.70" cy="193.80" r="3.75" fill="#ff9100"/>
<rect x="383.85" y="206.52" width="6.7" height="6.7" fill="none" stroke="#104b85" stroke-width="1.15" rx="0.4"/>
<rect x="407.30" y="206.37" width="7.0" height="7.0" fill="#104b85"/>
<circle cx="335.60" cy="209.87" r="3.7" fill="none" stroke="#ff9100" stroke-width="1.2"/>
<circle cx="458.10" cy="209.87" r="3.75" fill="#ff9100"/>
<rect x="383.85" y="222.59" width="6.7" height="6.7" fill="none" stroke="#104b85" stroke-width="1.15" rx="0.4"/>
<rect x="407.30" y="222.44" width="7.0" height="7.0" fill="#104b85"/>
<circle cx="369.30" cy="225.94" r="3.7" fill="none" stroke="#ff9100" stroke-width="1.2"/>
<circle cx="397.20" cy="225.94" r="3.75" fill="#ff9100"/>
<rect x="388.45" y="238.66" width="6.7" height="6.7" fill="none" stroke="#104b85" stroke-width="1.15" rx="0.4"/>
<rect x="398.10" y="238.51" width="7.0" height="7.0" fill="#104b85"/>
<circle cx="347.20" cy="242.01" r="3.7" fill="none" stroke="#ff9100" stroke-width="1.2"/>
<circle cx="392.00" cy="242.01" r="3.75" fill="#ff9100"/>
<rect x="392.85" y="254.73" width="6.7" height="6.7" fill="none" stroke="#104b85" stroke-width="1.15" rx="0.4"/>
<rect x="398.10" y="254.58" width="7.0" height="7.0" fill="#104b85"/>
<circle cx="425.00" cy="258.08" r="3.7" fill="none" stroke="#ff9100" stroke-width="1.2"/>
<circle cx="357.70" cy="258.08" r="3.75" fill="#ff9100"/>
<rect x="393.05" y="270.80" width="6.7" height="6.7" fill="none" stroke="#104b85" stroke-width="1.15" rx="0.4"/>
<rect x="398.10" y="270.65" width="7.0" height="7.0" fill="#104b85"/>
<circle cx="436.80" cy="274.15" r="3.7" fill="none" stroke="#ff9100" stroke-width="1.2"/>
<circle cx="346.80" cy="274.15" r="3.75" fill="#ff9100"/>
<rect x="393.10" y="286.72" width="7.0" height="7.0" fill="#104b85"/>
<circle cx="335.60" cy="290.22" r="3.7" fill="none" stroke="#ff9100" stroke-width="1.2"/>
<circle cx="452.70" cy="290.22" r="3.75" fill="#ff9100"/>
<rect x="435.75" y="302.94" width="6.7" height="6.7" fill="none" stroke="#104b85" stroke-width="1.15" rx="0.4"/>
<rect x="393.10" y="302.79" width="7.0" height="7.0" fill="#104b85"/>
<circle cx="363.30" cy="306.29" r="3.7" fill="none" stroke="#ff9100" stroke-width="1.2"/>
<circle cx="402.70" cy="306.29" r="3.75" fill="#ff9100"/>
<rect x="397.90" y="319.01" width="6.7" height="6.7" fill="none" stroke="#104b85" stroke-width="1.15" rx="0.4"/>
<rect x="393.40" y="318.86" width="7.0" height="7.0" fill="#104b85"/>
<circle cx="374.80" cy="322.36" r="3.7" fill="none" stroke="#ff9100" stroke-width="1.2"/>
<circle cx="386.00" cy="322.36" r="3.75" fill="#ff9100"/>
<rect x="407.75" y="335.08" width="6.7" height="6.7" fill="none" stroke="#104b85" stroke-width="1.15" rx="0.4"/>
<rect x="393.20" y="334.93" width="7.0" height="7.0" fill="#104b85"/>
<circle cx="407.90" cy="338.43" r="3.7" fill="none" stroke="#ff9100" stroke-width="1.2"/>
<circle cx="352.50" cy="338.43" r="3.75" fill="#ff9100"/>
<rect x="431.35" y="351.15" width="6.7" height="6.7" fill="none" stroke="#104b85" stroke-width="1.15" rx="0.4"/>
<rect x="388.70" y="351.00" width="7.0" height="7.0" fill="#104b85"/>
<circle cx="341.40" cy="354.50" r="3.7" fill="none" stroke="#ff9100" stroke-width="1.2"/>
<circle cx="425.00" cy="354.50" r="3.75" fill="#ff9100"/>
<rect x="412.65" y="367.22" width="6.7" height="6.7" fill="none" stroke="#104b85" stroke-width="1.15" rx="0.4"/>
<rect x="388.70" y="367.07" width="7.0" height="7.0" fill="#104b85"/>
<circle cx="358.10" cy="370.57" r="3.7" fill="none" stroke="#ff9100" stroke-width="1.2"/>
<circle cx="414.10" cy="370.57" r="3.75" fill="#ff9100"/>
<rect x="407.45" y="383.29" width="6.7" height="6.7" fill="none" stroke="#104b85" stroke-width="1.15" rx="0.4"/>
<rect x="388.70" y="383.14" width="7.0" height="7.0" fill="#104b85"/>
<circle cx="341.40" cy="386.64" r="3.7" fill="none" stroke="#ff9100" stroke-width="1.2"/>
<circle cx="397.20" cy="386.64" r="3.75" fill="#ff9100"/>
<rect x="412.25" y="399.36" width="6.7" height="6.7" fill="none" stroke="#104b85" stroke-width="1.15" rx="0.4"/>
<rect x="388.70" y="399.21" width="7.0" height="7.0" fill="#104b85"/>
<circle cx="346.80" cy="402.71" r="3.7" fill="none" stroke="#ff9100" stroke-width="1.2"/>
<circle cx="402.70" cy="402.71" r="3.75" fill="#ff9100"/>
<rect x="431.15" y="415.43" width="6.7" height="6.7" fill="none" stroke="#104b85" stroke-width="1.15" rx="0.4"/>
<rect x="388.70" y="415.28" width="7.0" height="7.0" fill="#104b85"/>
<circle cx="408.70" cy="418.78" r="3.7" fill="none" stroke="#ff9100" stroke-width="1.2"/>
<circle cx="357.90" cy="418.78" r="3.75" fill="#ff9100"/>
<rect x="386.65" y="431.50" width="6.7" height="6.7" fill="none" stroke="#104b85" stroke-width="1.15" rx="0.4"/>
<rect x="383.70" y="431.35" width="7.0" height="7.0" fill="#104b85"/>
<circle cx="346.80" cy="434.85" r="3.7" fill="none" stroke="#ff9100" stroke-width="1.2"/>
<circle cx="442.00" cy="434.85" r="3.75" fill="#ff9100"/>
<rect x="445.15" y="447.57" width="6.7" height="6.7" fill="none" stroke="#104b85" stroke-width="1.15" rx="0.4"/>
<rect x="384.00" y="447.42" width="7.0" height="7.0" fill="#104b85"/>
<circle cx="458.30" cy="450.92" r="3.7" fill="none" stroke="#ff9100" stroke-width="1.2"/>
<circle cx="341.40" cy="450.92" r="3.75" fill="#ff9100"/>
<rect x="374.55" y="463.64" width="6.7" height="6.7" fill="none" stroke="#104b85" stroke-width="1.15" rx="0.4"/>
<rect x="384.00" y="463.49" width="7.0" height="7.0" fill="#104b85"/>
<circle cx="413.70" cy="466.99" r="3.7" fill="none" stroke="#ff9100" stroke-width="1.2"/>
<circle cx="347.20" cy="466.99" r="3.75" fill="#ff9100"/>
<rect x="412.25" y="479.71" width="6.7" height="6.7" fill="none" stroke="#104b85" stroke-width="1.15" rx="0.4"/>
<rect x="383.70" y="479.56" width="7.0" height="7.0" fill="#104b85"/>
<circle cx="352.50" cy="483.06" r="3.7" fill="none" stroke="#ff9100" stroke-width="1.2"/>
<circle cx="380.40" cy="483.06" r="3.75" fill="#ff9100"/>
<rect x="431.15" y="495.78" width="6.7" height="6.7" fill="none" stroke="#104b85" stroke-width="1.15" rx="0.4"/>
<rect x="378.80" y="495.63" width="7.0" height="7.0" fill="#104b85"/>
<circle cx="442.00" cy="499.13" r="3.7" fill="none" stroke="#ff9100" stroke-width="1.2"/>
<circle cx="341.40" cy="499.13" r="3.75" fill="#ff9100"/>
<rect x="402.65" y="511.85" width="6.7" height="6.7" fill="none" stroke="#104b85" stroke-width="1.15" rx="0.4"/>
<rect x="379.00" y="511.70" width="7.0" height="7.0" fill="#104b85"/>
<circle cx="442.00" cy="515.20" r="3.7" fill="none" stroke="#ff9100" stroke-width="1.2"/>
<circle cx="346.80" cy="515.20" r="3.75" fill="#ff9100"/>
<rect x="411.85" y="527.92" width="6.7" height="6.7" fill="none" stroke="#104b85" stroke-width="1.15" rx="0.4"/>
<rect x="379.20" y="527.77" width="7.0" height="7.0" fill="#104b85"/>
<circle cx="347.20" cy="531.27" r="3.7" fill="none" stroke="#ff9100" stroke-width="1.2"/>
<circle cx="396.80" cy="531.27" r="3.75" fill="#ff9100"/>
<rect x="416.85" y="543.99" width="6.7" height="6.7" fill="none" stroke="#104b85" stroke-width="1.15" rx="0.4"/>
<rect x="374.00" y="543.84" width="7.0" height="7.0" fill="#104b85"/>
<circle cx="386.00" cy="547.34" r="3.7" fill="none" stroke="#ff9100" stroke-width="1.2"/>
<circle cx="391.40" cy="547.34" r="3.75" fill="#ff9100"/>
<rect x="440.55" y="560.06" width="6.7" height="6.7" fill="none" stroke="#104b85" stroke-width="1.15" rx="0.4"/>
<rect x="374.00" y="559.91" width="7.0" height="7.0" fill="#104b85"/>
<circle cx="407.90" cy="563.41" r="3.7" fill="none" stroke="#ff9100" stroke-width="1.2"/>
<circle cx="352.30" cy="563.41" r="3.75" fill="#ff9100"/>
<rect x="426.45" y="576.13" width="6.7" height="6.7" fill="none" stroke="#104b85" stroke-width="1.15" rx="0.4"/>
<rect x="374.80" y="575.98" width="7.0" height="7.0" fill="#104b85"/>
<circle cx="352.50" cy="579.48" r="3.7" fill="none" stroke="#ff9100" stroke-width="1.2"/>
<circle cx="374.80" cy="579.48" r="3.75" fill="#ff9100"/>
<rect x="393.45" y="592.20" width="6.7" height="6.7" fill="none" stroke="#104b85" stroke-width="1.15" rx="0.4"/>
<rect x="374.00" y="592.05" width="7.0" height="7.0" fill="#104b85"/>
<circle cx="341.40" cy="595.55" r="3.7" fill="none" stroke="#ff9100" stroke-width="1.2"/>
<circle cx="380.40" cy="595.55" r="3.75" fill="#ff9100"/>
<rect x="416.85" y="608.27" width="6.7" height="6.7" fill="none" stroke="#104b85" stroke-width="1.15" rx="0.4"/>
<rect x="379.80" y="608.12" width="7.0" height="7.0" fill="#104b85"/>
<circle cx="380.40" cy="611.62" r="3.7" fill="none" stroke="#ff9100" stroke-width="1.2"/>
<circle cx="363.50" cy="611.62" r="3.75" fill="#ff9100"/>
<rect x="440.55" y="624.34" width="6.7" height="6.7" fill="none" stroke="#104b85" stroke-width="1.15" rx="0.4"/>
<rect x="365.00" y="624.19" width="7.0" height="7.0" fill="#104b85"/>
<circle cx="402.70" cy="627.69" r="3.7" fill="none" stroke="#ff9100" stroke-width="1.2"/>
<circle cx="352.30" cy="627.69" r="3.75" fill="#ff9100"/>
<rect x="397.85" y="640.41" width="6.7" height="6.7" fill="none" stroke="#104b85" stroke-width="1.15" rx="0.4"/>
<rect x="364.80" y="640.26" width="7.0" height="7.0" fill="#104b85"/>
<circle cx="371.60" cy="643.76" r="3.7" fill="none" stroke="#ff9100" stroke-width="1.2"/>
<circle cx="380.20" cy="643.76" r="3.75" fill="#ff9100"/>
<rect x="449.95" y="656.48" width="6.7" height="6.7" fill="none" stroke="#104b85" stroke-width="1.15" rx="0.4"/>
<rect x="356.00" y="656.33" width="7.0" height="7.0" fill="#104b85"/>
<circle cx="413.80" cy="659.83" r="3.7" fill="none" stroke="#ff9100" stroke-width="1.2"/>
<circle cx="374.80" cy="659.83" r="3.75" fill="#ff9100"/>
<rect x="398.65" y="672.55" width="6.7" height="6.7" fill="none" stroke="#104b85" stroke-width="1.15" rx="0.4"/>
<rect x="393.30" y="672.40" width="7.0" height="7.0" fill="#104b85"/>
<rect x="407.45" y="688.62" width="6.7" height="6.7" fill="none" stroke="#104b85" stroke-width="1.15" rx="0.4"/>
<rect x="374.30" y="688.47" width="7.0" height="7.0" fill="#104b85"/>
<rect x="388.65" y="704.69" width="6.7" height="6.7" fill="none" stroke="#104b85" stroke-width="1.15" rx="0.4"/>
<rect x="379.20" y="704.54" width="7.0" height="7.0" fill="#104b85"/>
<rect x="457.20" y="27.60" width="11.0" height="11.0" fill="none" stroke="#46b958" stroke-width="1.2" rx="0.8"/>
<rect x="480.90" y="27.60" width="11.0" height="11.0" fill="none" stroke="#46b958" stroke-width="1.2" rx="0.8"/>
<rect x="498.20" y="43.67" width="11.0" height="11.0" fill="none" stroke="#46b958" stroke-width="1.2" rx="0.8"/>
<rect x="464.30" y="59.74" width="11.0" height="11.0" fill="none" stroke="#46b958" stroke-width="1.2" rx="0.8"/>
<text transform="translate(324.6 744.3) scale(0.855 1.0)" font-size="8.7" text-anchor="middle" stroke="#1e1e1e" stroke-width="0.25">Ranking percentage</text>
<rect x="85.75" y="755.75" width="7.1" height="7.1" fill="none" stroke="#104b85" stroke-width="1.15" rx="0.4"/>
<text transform="translate(94.20 761.80) scale(1 1.1)" font-size="7.85">Patients 1−3 (%)</text>
<rect x="167.9" y="755.8" width="7.1" height="7.1" fill="#104b85"/>
<text transform="translate(176.30 761.80) scale(1 1.1)" font-size="7.85">Patients 7−9 (%)</text>
<circle cx="252.9" cy="759.0" r="3.7" fill="none" stroke="#ff9100" stroke-width="1.2"/>
<text transform="translate(258.30 761.80) scale(1 1.1)" font-size="7.85">Hematologists 1−3 (%)</text>
<circle cx="356.2" cy="759.0" r="3.75" fill="#ff9100"/>
<text transform="translate(361.30 761.80) scale(1 1.1)" font-size="7.85">Hematologists 7−9 (%)</text>
<rect x="107.3" y="771.7" width="9.0" height="9.0" fill="none" stroke="#c91a40" stroke-width="1.2" rx="0.8"/>
<text transform="translate(120.60 778.60) scale(1 1.1)" font-size="7.85">PROs rated dominantly 1−3 (&gt;70%)</text>
<rect x="274.5" y="771.5" width="9.0" height="9.0" fill="none" stroke="#46b958" stroke-width="1.2" rx="0.8"/>
<text transform="translate(287.90 778.60) scale(1 1.1)" font-size="7.85">PROs rated dominantly 7−9 (&gt;70%)</text>
<rect x="0" y="0" width="520" height="1" fill="#000"/>
<rect x="0" y="0" width="1" height="789" fill="#000"/>
<rect x="519" y="0" width="1" height="789" fill="#000"/>
<rect x="0" y="788" width="520" height="1" fill="#000"/>
<rect x="518" y="1" width="1" height="787" fill="#a8a8a8"/>
<rect x="1" y="787" width="517" height="1" fill="#a8a8a8"/>
<rect x="1" y="1" width="517" height="1" fill="#ddd"/>
<rect x="1" y="1" width="1" height="786" fill="#ddd"/>
</svg>
</body></html>
